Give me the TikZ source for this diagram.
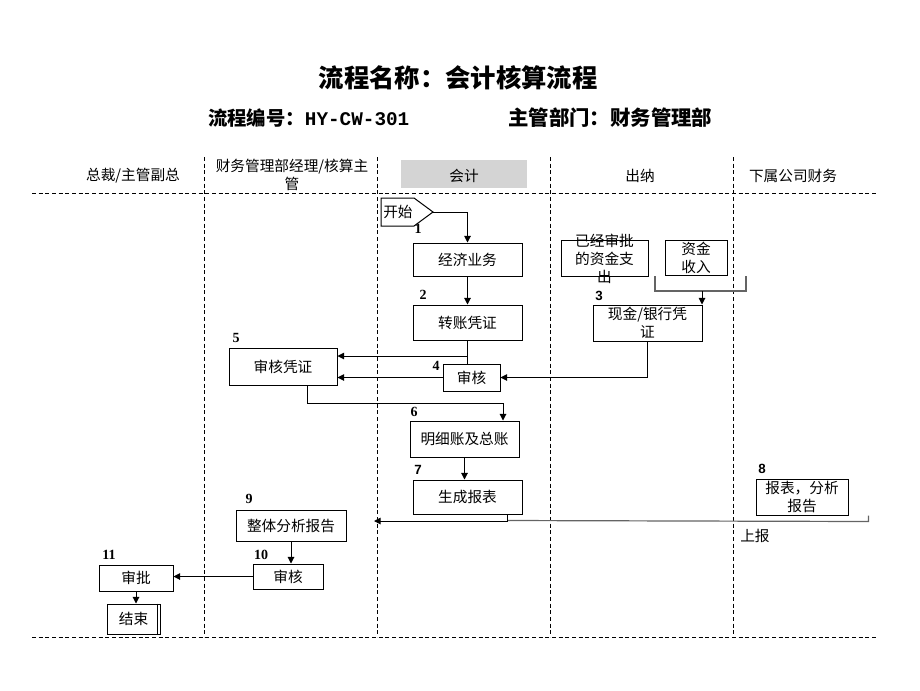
\documentclass[tikz,border=0pt]{standalone}
\usepackage{fontspec}
\setmainfont{Noto Sans CJK SC}
\newfontfamily\serifb{Liberation Serif}
\newfontfamily\sansb{Liberation Sans}
\newfontfamily\monob{Liberation Mono}
\usetikzlibrary{calc,arrows.meta}
\definecolor{hdrgray}{RGB}{212,212,212}
\definecolor{lgray}{RGB}{100,100,100}
\tikzset{
  box/.style={draw, line width=0.75pt, inner sep=0pt, font=\fontsize{11}{13.5}\selectfont, align=center},
  arr/.style={line width=0.75pt, -{Triangle[length=5pt,width=5pt]}},
  ln/.style={line width=0.75pt},
  glines/.style={line width=0.9pt, draw=lgray},
  lane/.style={line width=0.6pt, dash pattern=on 3pt off 2pt},
  hdr/.style={font=\fontsize{11}{13.5}\selectfont, align=center, inner sep=0pt},
  numa/.style={font=\serifb\bfseries\fontsize{10.5}{12}\selectfont, inner sep=0pt},
  numb/.style={font=\sansb\bfseries\fontsize{10}{12}\selectfont, inner sep=0pt},
  txt/.style={font=\fontsize{11}{13.5}\selectfont, inner sep=0pt, align=center}
}
\begin{document}
\begin{tikzpicture}[x=0.75pt,y=-0.75pt]
\useasboundingbox (0,0) rectangle (920,690);
% titles
\node[font=\fontsize{19}{22}\selectfont\bfseries, inner sep=0pt] (title) at (458,78) {流程名称：会计核算流程};
\node[font=\fontsize{14.5}{17}\selectfont\bfseries, anchor=west, inner sep=0pt] (code) at (208,118) {流程编号：{\monob\bfseries HY-CW-301}};
\node[font=\fontsize{15.3}{17}\selectfont\bfseries, anchor=west, inner sep=0pt] (dept) at (508,118) {主管部门：财务管理部};
% lane headers
\node[hdr] (h1) at (133,176) {总裁/主管副总};
\node[hdr] (h2) at (292,175) {财务管理部经理/核算主\\管};
\node[fill=hdrgray, minimum width=94.5pt, minimum height=21pt, inner sep=0pt] (h3bg) at (464,174) {};
\node[hdr] (h3) at (464,176) {会计};
\node[hdr] (h4) at (640,176) {出纳};
\node[hdr] (h5) at (793,176) {下属公司财务};
% lane lines
\draw[lane] (32,193) -- (876,193);
\draw[lane] (32,637) -- (876,637);
\foreach \xx in {204,377,550,733} { \draw[lane] (\xx,157) -- (\xx,637); }
% start shape
\draw[ln] (381,198) -- (414,198) -- (433,212) -- (414,226) -- (381,226) -- cycle;
\coordinate (tip) at (433,212);
\node[txt, anchor=west] (start) at (383,212) {开始};
% boxes
\node[box, minimum width=81.75pt, minimum height=24.75pt] (n1) at (467.5,259.5) {经济业务};
\node[box, minimum width=81.75pt, minimum height=26.25pt] (n2) at (467.5,322.5) {转账凭证};
\node[box, minimum width=81.75pt, minimum height=27pt] (n3) at (647.5,323) {};
\node[txt] (n3t) at (647.5,323) {现金/银行凭\\证};
\node[box, minimum width=42.75pt, minimum height=20.25pt] (n4) at (471.5,377.5) {审核};
\node[box, minimum width=81pt, minimum height=27.75pt] (n5) at (283,366.5) {审核凭证};
\node[box, minimum width=81.75pt, minimum height=27pt] (n6) at (464.5,439) {明细账及总账};
\node[box, minimum width=81.75pt, minimum height=25.5pt] (n7) at (467.5,497) {生成报表};
\node[box, minimum width=69pt, minimum height=27pt] (n8) at (802,497) {};
\node[txt] (n8t) at (802,497) {报表，分析\\报告};
\node[box, minimum width=82.5pt, minimum height=23.25pt] (n9) at (291,525.5) {整体分析报告};
\node[box, minimum width=52.5pt, minimum height=18.75pt] (n10) at (288,576.5) {审核};
\node[box, minimum width=55.5pt, minimum height=19.5pt] (n11) at (136,578) {审批};
\node[box, minimum width=39.75pt, minimum height=22.5pt] (n12) at (133.5,619) {结束};
\draw[ln] ($(n12.north east)+(-3,0)$) -- ($(n12.south east)+(-3,0)$);
\node[box, minimum width=65.25pt, minimum height=27pt] (pa) at (604.5,258) {};
\node[txt] (pat) at (604.5,259) {已经审批\\的资金支\\出};
\node[box, minimum width=46.5pt, minimum height=26.25pt] (pb) at (696,257.5) {资金\\收入};
% numbers
\node[numa] (l1) at (418,229) {1};
\node[numa] (l2) at (423,295) {2};
\node[numb] (l3) at (599,296) {3};
\node[numa] (l4) at (436,366) {4};
\node[numa] (l5) at (236,338) {5};
\node[numa] (l6) at (414,412) {6};
\node[numb] (l7) at (418,470) {7};
\node[numb] (l8) at (762,469) {8};
\node[numa] (l9) at (249,499) {9};
\node[numa] (l10) at (261,555) {10};
\node[numa] (l11) at (109,555) {11};
\node[txt, anchor=west] (up) at (740,536) {上报};
% connectors
\draw[arr] (tip) -| (n1.north);
\draw[arr] (n1.south) -- (n1.south |- n2.north);
\draw[ln] (n2.south) -- (n2.south |- n4.north);
\coordinate (j1) at (467.5,356);
\draw[arr] (j1) -- (j1 -| n5.east);
\draw[arr] (n4.west) -- (n4.west -| n5.east);
\draw[arr] (n3.south) |- (n4.east);
\draw[arr] ($(n5.south)+(24,0)$) |- ($(n6.north)+(38.5,-17)$) -- ($(n6.north)+(38.5,0)$);
\draw[arr] (n6.south) -- (n6.south |- n7.north);
\coordinate (rep) at (374,521);
\draw[glines] ($(n8.south east)+(20,0)$) -- ($(n8.south east)+(20,6)$) -- ($(n7.south)+(39.5,6)$);
\draw[arr] ($(n7.south)+(39.5,0)$) |- (rep);
\coordinate (ga) at (655,276);
\coordinate (gb) at (746,276);
\draw[glines] (ga) |- (746,291) -- (gb);
\coordinate (g) at (702,291);
\draw[arr] (g) -- (g |- n3.north);
\draw[arr] (n9.south) -- (n9.south |- n10.north);
\draw[arr] (n10.west) -- (n10.west -| n11.east);
\draw[arr] (n11.south) -- (n11.south |- n12.north);
\end{tikzpicture}
\end{document}
